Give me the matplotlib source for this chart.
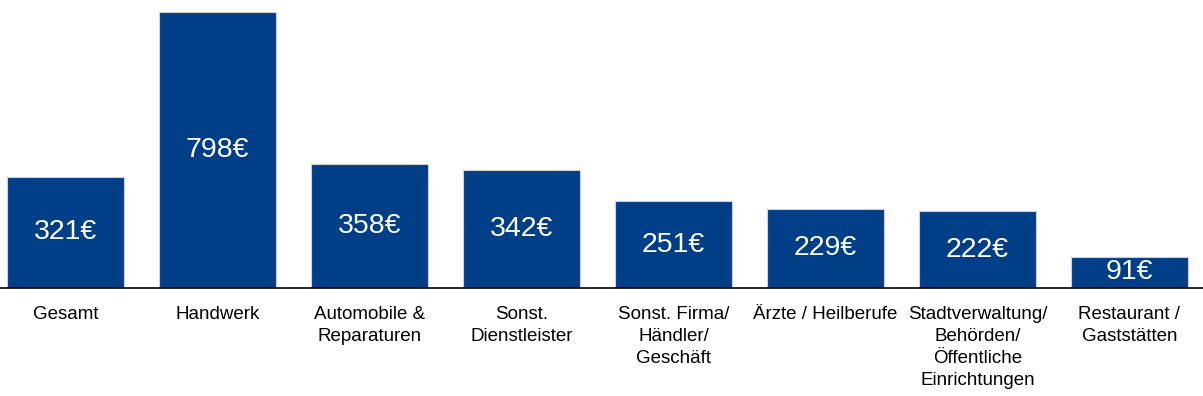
import matplotlib
matplotlib.use("Agg")
import matplotlib.pyplot as plt

categories = ["Gesamt", "Handwerk", "Automobile &\nReparaturen", "Sonst.\nDienstleister",
              "Sonst. Firma/\nHändler/\nGeschäft", "Ärzte / Heilberufe",
              "Stadtverwaltung/\nBehörden/\nÖffentliche\nEinrichtungen", "Restaurant /\nGaststätten"]
values = [321, 798, 358, 342, 251, 229, 222, 91]
value_labels = ["321€", "798€", "358€", "342€", "251€", "229€", "222€", "91€"]

plt.rcParams['font.family'] = ['Liberation Sans', 'DejaVu Sans']

W, H = 1203, 396
fig = plt.figure(figsize=(W/100, H/100), dpi=100)
bottom_px, top_px = 288, 12
ax = fig.add_axes([0, (H-bottom_px)/H, 1, (bottom_px-top_px)/H])

x = list(range(len(categories)))
bar_color = "#003F87"
ax.bar(x, values, width=117/152, color=bar_color, edgecolor="#D0D0D0", linewidth=0.8, zorder=2)
ax.set_ylim(0, 798)
ax.set_xlim(-65.5/152, (W-65.5)/152)

for xi, v, lab in zip(x, values, value_labels):
    ax.text(xi, v/2, lab, ha='center', va='center', color='white', fontsize=20.5, zorder=3)

ax.set_xticks(x)
ax.set_xticklabels(categories, fontsize=13.5, linespacing=1.38, va='top')
ax.tick_params(axis='x', length=0, pad=13)
ax.set_yticks([])
for s in ['top', 'right', 'left']:
    ax.spines[s].set_visible(False)
ax.spines['bottom'].set_color('black')
ax.spines['bottom'].set_linewidth(1.2)
ax.spines['bottom'].set_zorder(4)

fig.savefig("out.png", dpi=100)
